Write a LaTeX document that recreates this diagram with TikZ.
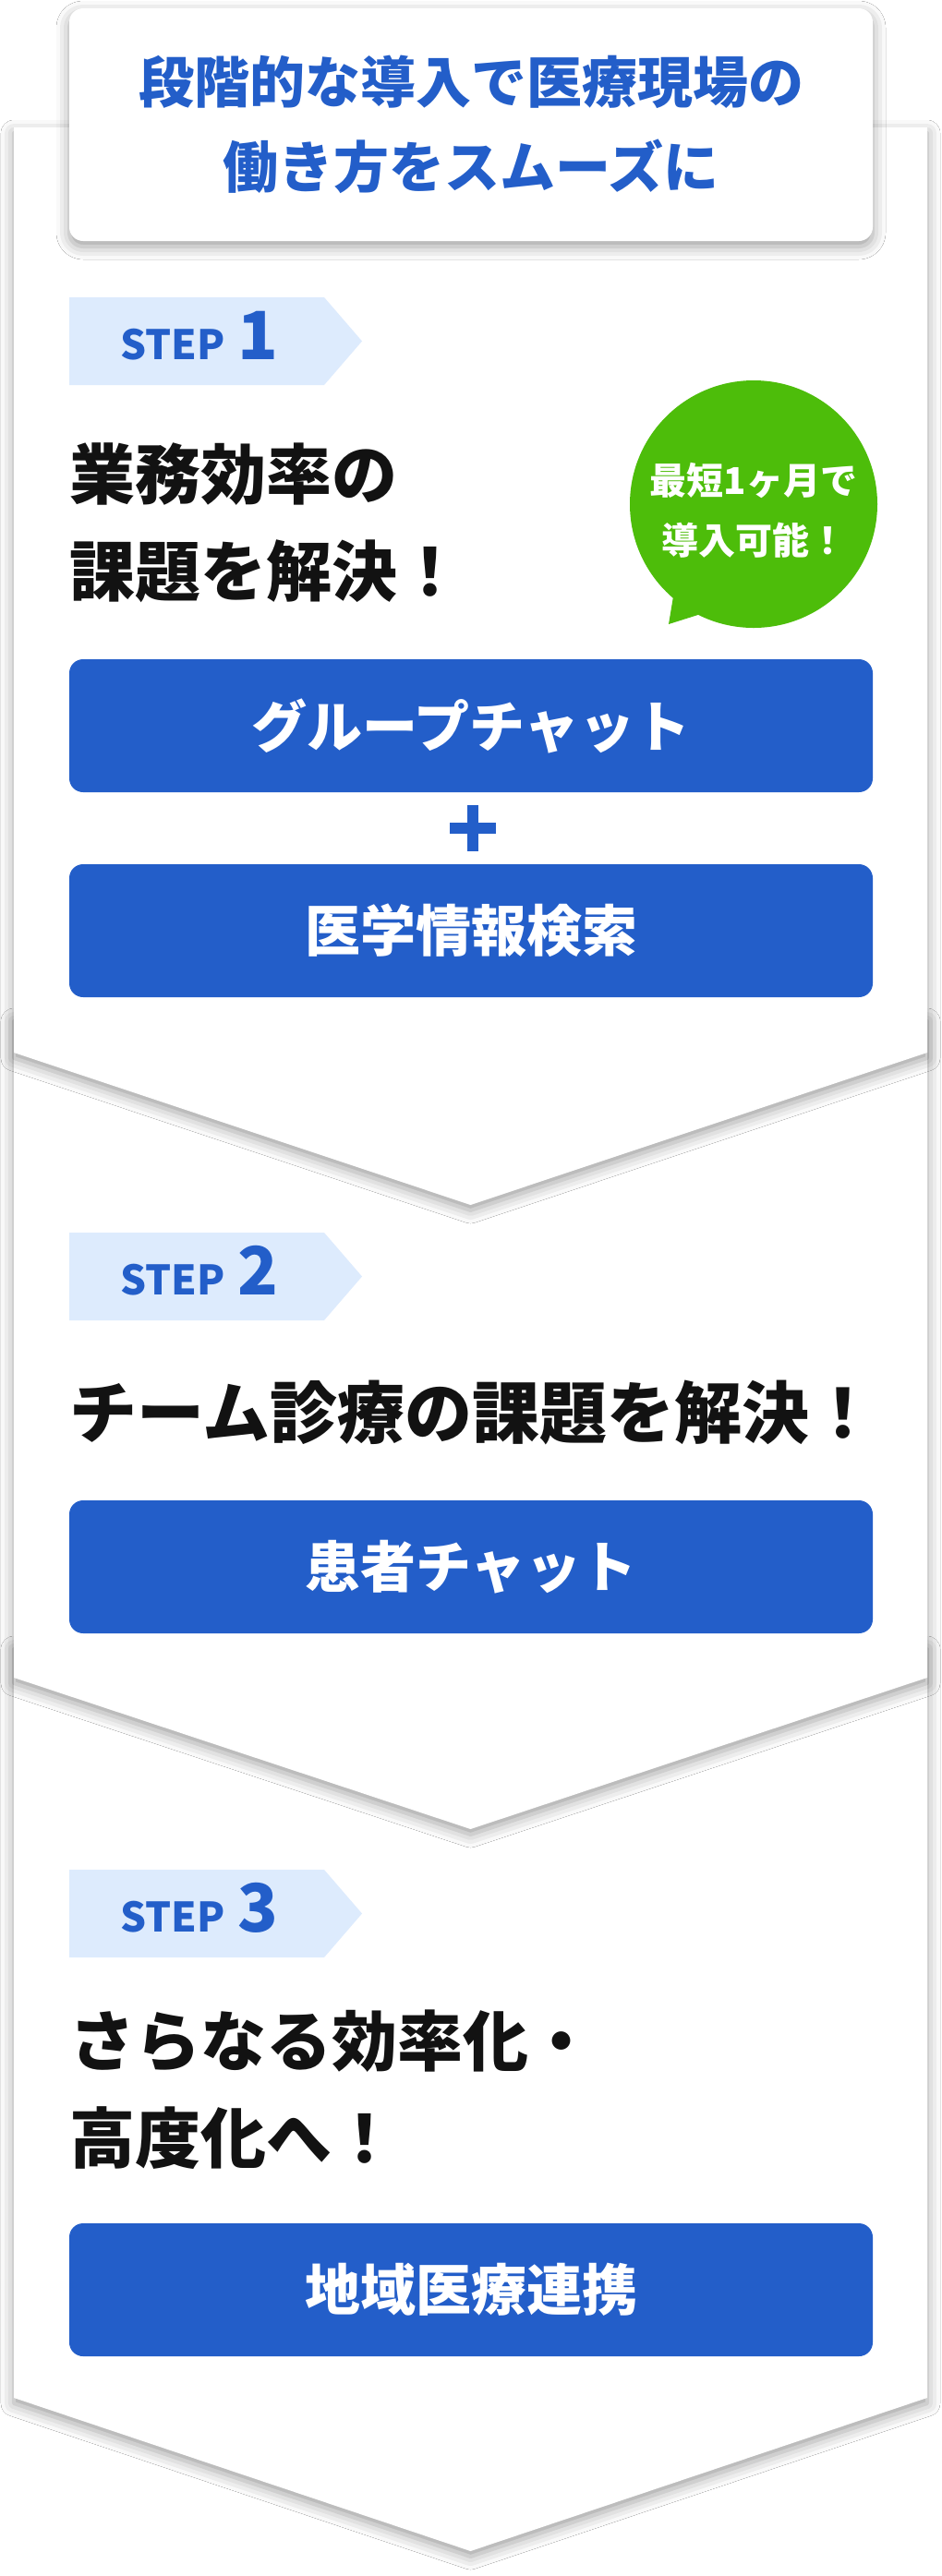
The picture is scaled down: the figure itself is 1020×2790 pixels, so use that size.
\documentclass[tikz,border=0pt]{standalone}
\usepackage{fontspec}
\setmainfont{Noto Sans CJK JP}
\usetikzlibrary{shadows.blur}

\definecolor{stepblue}{RGB}{35,94,201}
\definecolor{steplight}{RGB}{221,235,253}
\definecolor{bubblegreen}{RGB}{77,189,10}

\tikzset{
  panel/.style={fill=white, blur shadow={shadow xshift=0pt, shadow yshift=-6pt, shadow blur radius=14pt, shadow opacity=38}},
  stepbtn/.style={fill=stepblue, rounded corners=15pt, minimum width=870pt, minimum height=144pt, inner sep=0pt, text=white, font=\bfseries\fontsize{60}{60}\selectfont},
  heading/.style={anchor=west, align=left, inner sep=0pt, text=black!93, font=\bfseries\fontsize{71}{105}\selectfont},
  steptag/.style={anchor=base west, inner sep=0pt, text=stepblue, font=\bfseries\fontsize{44}{44}\selectfont},
}

% badge: top edge, number
\newcommand{\stepbadge}[2]{%
  \fill[steplight] (75,#1) -- (351,#1) -- (392,#1+47.5) -- (351,#1+95) -- (75,#1+95) -- cycle;
  \node[steptag] (step#2) at (130,#1+67) {STEP\hspace{14pt}{\fontsize{72}{72}\selectfont #2}};
}

\begin{document}
\begin{tikzpicture}[x=1pt, y=-1pt]
  \useasboundingbox (0,0) rectangle (1020,2790);
  \fill[white] (0,0) rectangle (1020,2790);

  % the three panels, last one first
  \foreach \top/\corner/\tip in {1780/2597/2763, 1100/1817/1981, 138/1140/1305}
    \path[panel] (15,\top) -- (1004,\top) -- (1004,\corner) -- (509.5,\tip) -- (15,\corner) -- cycle;

  \node[panel, rounded corners=15pt, minimum width=870pt, minimum height=252pt, inner sep=0pt,
        align=center, text=stepblue, font=\bfseries\fontsize{60}{92}\selectfont] (title) at (510,135)
        {段階的な導入で医療現場の\\働き方をスムーズに};

  % step 1
  \stepbadge{322}{1}
  \node[heading] (head1) at (75,566) {業務効率の\\課題を解決！};
  \fill[bubblegreen] (816,546) circle (134pt);
  \fill[bubblegreen] (730,640) -- (724,676) -- (762,664) -- cycle;
  \node[align=center, inner sep=0pt, text=white, font=\bfseries\fontsize{40}{65}\selectfont] (bubble) at (816,553)
        {最短1ヶ月で\\導入可能！};
  \node[stepbtn] (chat) at (510,786) {グループチャット};
  \coordinate (plus) at (512,897);
  \fill[stepblue] ([xshift=-25pt, yshift=-6pt]plus) rectangle ([xshift=25pt, yshift=6pt]plus);
  \fill[stepblue] ([xshift=-6pt, yshift=-25pt]plus) rectangle ([xshift=6pt, yshift=25pt]plus);
  \node[stepbtn] (search) at (510,1008) {医学情報検索};

  % step 2
  \stepbadge{1335}{2}
  \node[heading, font=\bfseries\fontsize{73}{73}\selectfont] (head2) at (75,1530) {チーム診療の課題を解決！};
  \node[stepbtn] (patient) at (510,1697) {患者チャット};

  % step 3
  \stepbadge{2025}{3}
  \node[heading] (head3) at (75,2263) {さらなる効率化・\\高度化へ！};
  \node[stepbtn] (region) at (510,2480) {地域医療連携};
\end{tikzpicture}
\end{document}
